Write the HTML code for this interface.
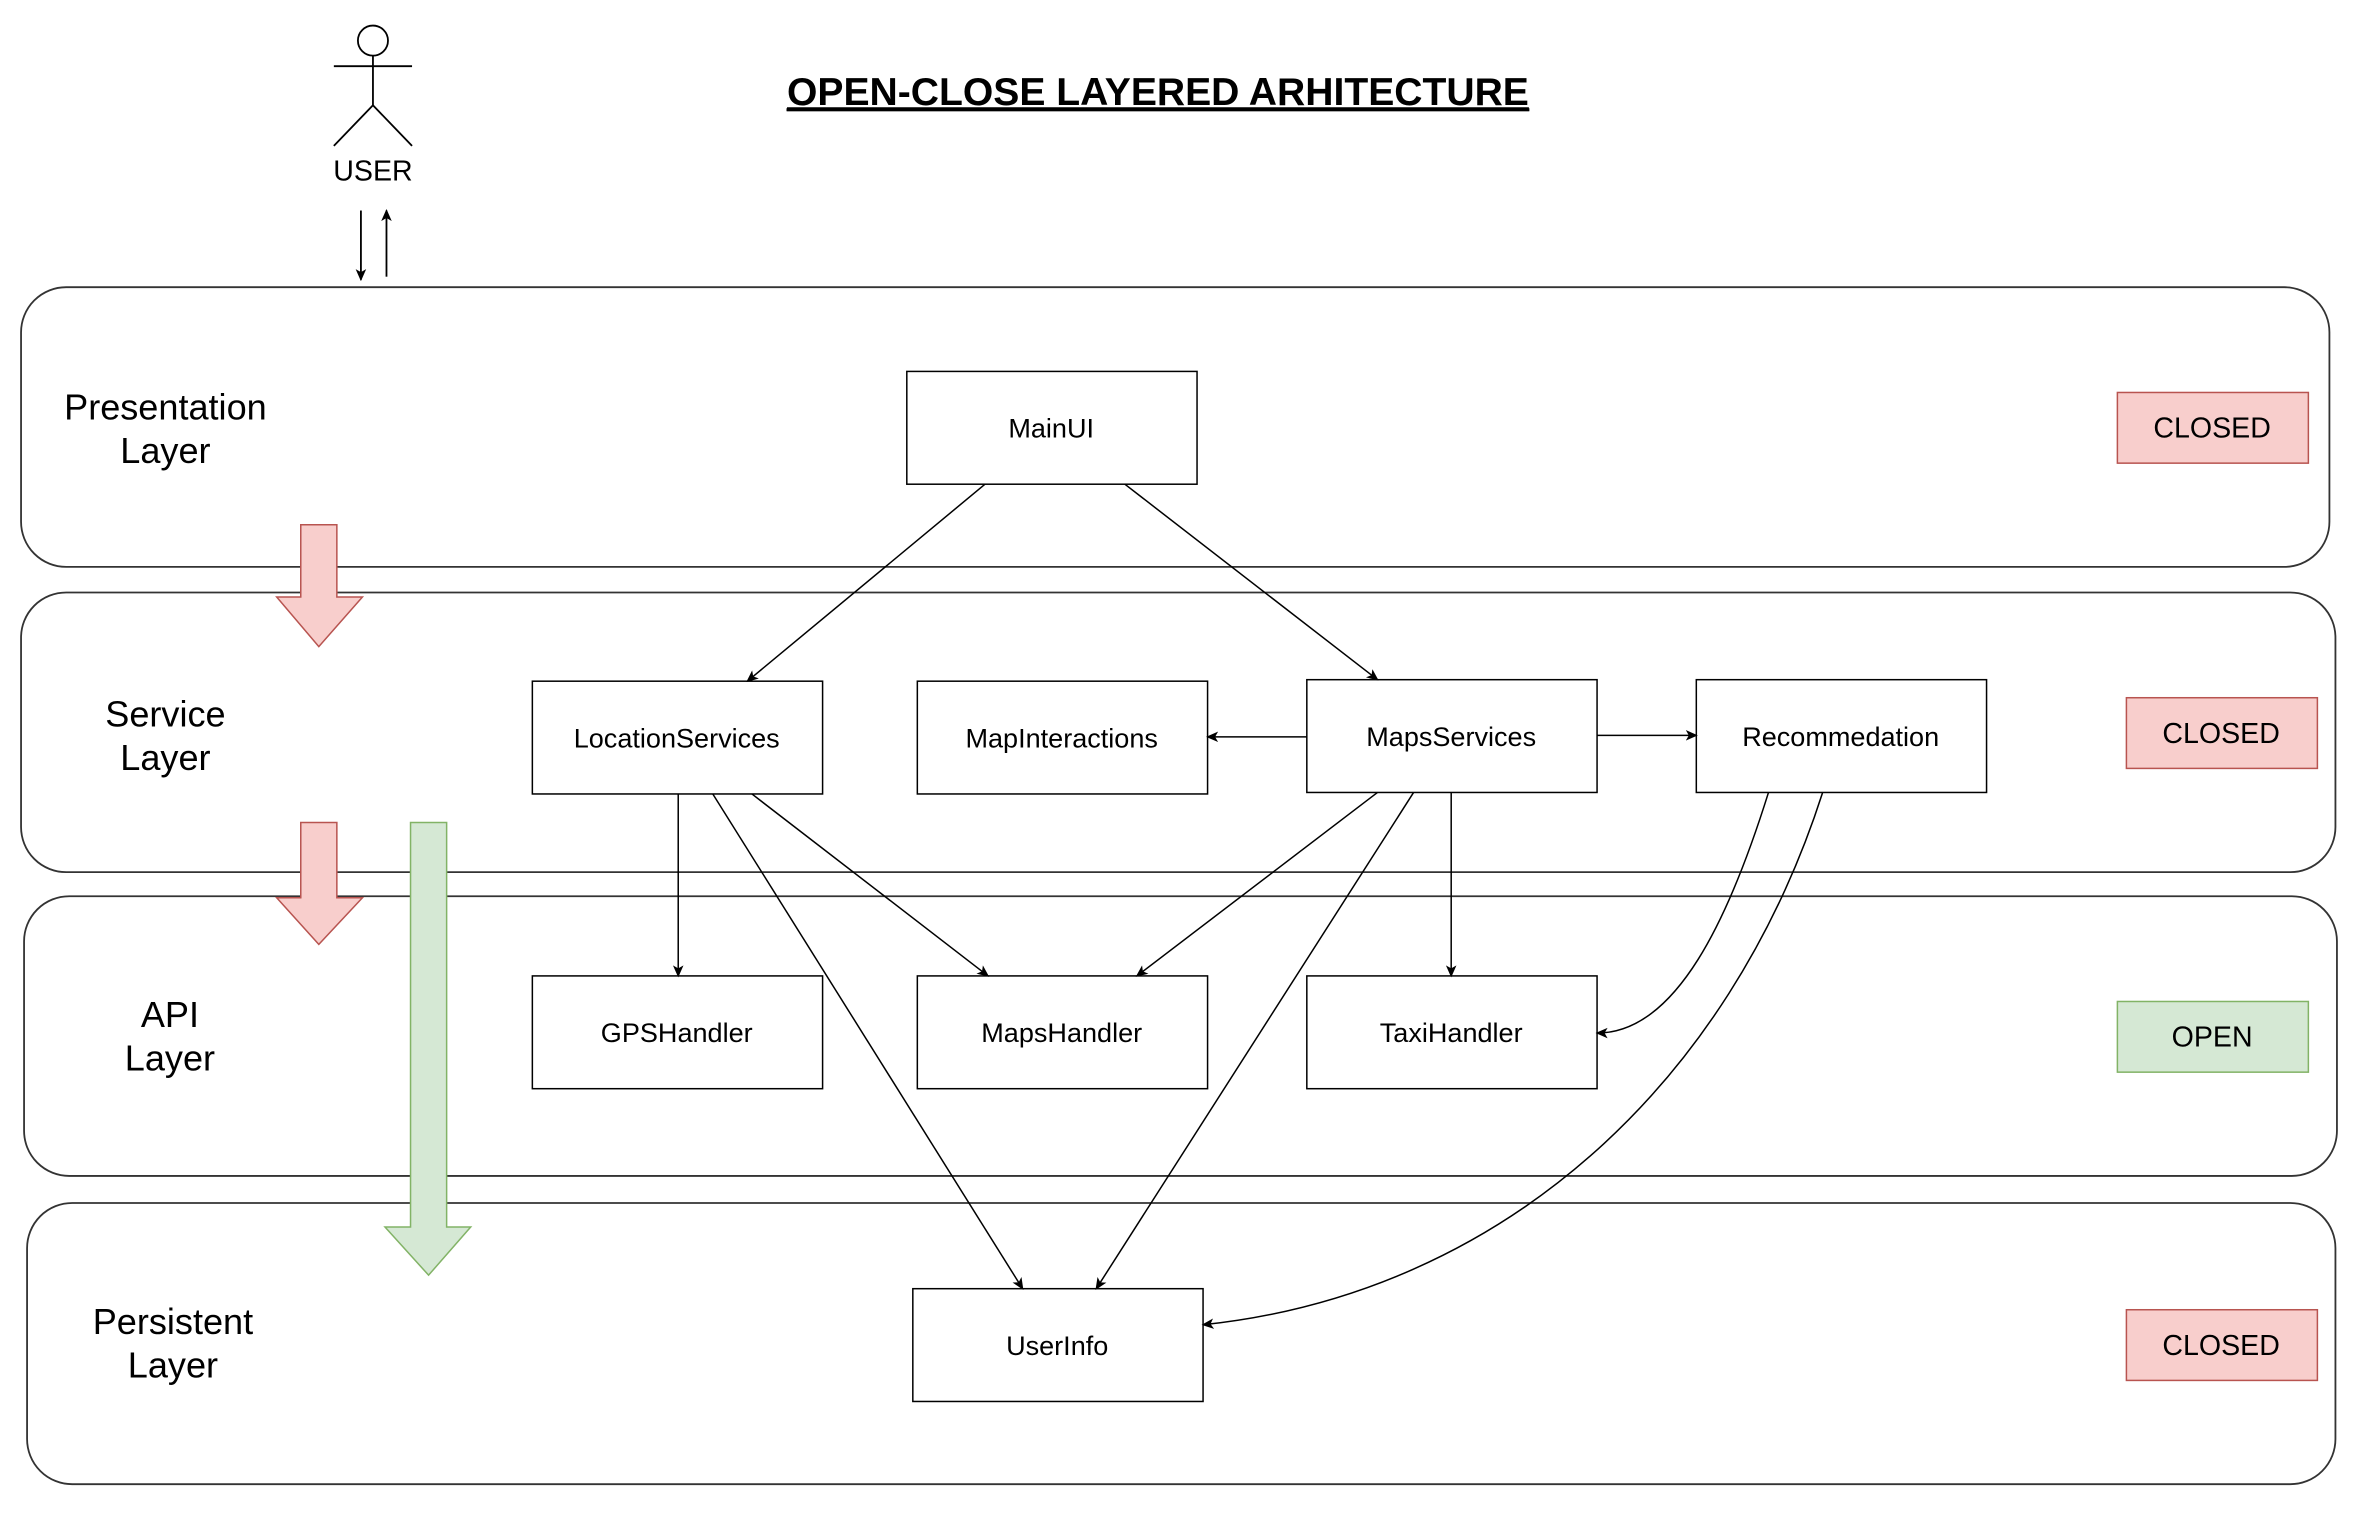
<!DOCTYPE html>
<html><head><meta charset="utf-8"><style>
html,body{margin:0;padding:0;background:#fff;}
svg{display:block;}
text{font-family:"Liberation Sans",Arial,sans-serif;}
</style></head><body>
<svg width="2358" height="1515" viewBox="0 0 1568 1007.5" preserveAspectRatio="none" xmlns="http://www.w3.org/2000/svg">
<defs>
<marker id="a" markerWidth="8" markerHeight="8" refX="7" refY="4" orient="auto" markerUnits="userSpaceOnUse">
<path d="M0,0.5 L8,4 L0,7.5 L2,4 Z" fill="#000"/></marker>
</defs>
<rect width="1568" height="1008" fill="#fff"/>
<!-- layers -->
<g fill="#fff" stroke="#333" stroke-width="1.2">
<rect x="14" y="191" width="1535" height="186" rx="30"/>
<rect x="14" y="394" width="1539" height="186" rx="30"/>
<rect x="16" y="596" width="1538" height="186" rx="30"/>
<rect x="18" y="800" width="1535" height="187" rx="30"/>
</g>
<!-- title -->
<text x="770" y="70" font-size="26" font-weight="bold" text-anchor="middle" text-decoration="underline">OPEN-CLOSE LAYERED ARHITECTURE</text>
<line x1="523" y1="73" x2="1017" y2="73" stroke="#000" stroke-width="2"/>
<!-- user -->
<g stroke="#000" stroke-width="1.2" fill="none">
<circle cx="248" cy="27" r="10" fill="#fff"/>
<line x1="248" y1="37" x2="248" y2="70"/>
<line x1="222" y1="44" x2="274" y2="44"/>
<line x1="248" y1="70" x2="222" y2="97"/>
<line x1="248" y1="70" x2="274" y2="97"/>
<line x1="240" y1="140" x2="240" y2="186" marker-end="url(#a)"/>
<line x1="257" y1="184" x2="257" y2="140" marker-end="url(#a)"/>
</g>
<text x="248" y="120" font-size="19" text-anchor="middle">USER</text>
<!-- layer labels -->
<g font-size="24" text-anchor="middle">
<text x="110" y="279">Presentation</text><text x="110" y="308">Layer</text>
<text x="110" y="483">Service</text><text x="110" y="512">Layer</text>
<text x="113" y="683">API</text><text x="113" y="712">Layer</text>
<text x="115" y="887">Persistent</text><text x="115" y="916">Layer</text>
</g>
<!-- block arrows -->
<path d="M200,349 H224 V397 H241 L212,430 L184,397 H200 Z" fill="#f8cecc" stroke="#b85450" stroke-width="1"/>
<path d="M200,547 H224 V597 H241 L212,628 L184,597 H200 Z" fill="#f8cecc" stroke="#b85450" stroke-width="1"/>
<path d="M273,547 H297 V816 H313 L285,848 L256,816 H273 Z" fill="#d5e8d4" stroke="#82b366" stroke-width="1"/>
<!-- status -->
<g stroke-width="1" font-size="19">
<rect x="1408" y="261" width="127" height="47" fill="#f8cecc" stroke="#b85450"/>
<rect x="1414" y="464" width="127" height="47" fill="#f8cecc" stroke="#b85450"/>
<rect x="1408" y="666" width="127" height="47" fill="#d5e8d4" stroke="#82b366"/>
<rect x="1414" y="871" width="127" height="47" fill="#f8cecc" stroke="#b85450"/>
</g>
<g font-size="19" text-anchor="middle">
<text x="1471" y="291">CLOSED</text>
<text x="1477" y="494">CLOSED</text>
<text x="1471" y="696">OPEN</text>
<text x="1477" y="901">CLOSED</text>
</g>
<!-- boxes -->
<g fill="#fff" stroke="#000" stroke-width="1">
<rect x="603" y="247" width="193" height="75"/>
<rect x="354" y="453" width="193" height="75"/>
<rect x="610" y="453" width="193" height="75"/>
<rect x="869" y="452" width="193" height="75"/>
<rect x="1128" y="452" width="193" height="75"/>
<rect x="354" y="649" width="193" height="75"/>
<rect x="610" y="649" width="193" height="75"/>
<rect x="869" y="649" width="193" height="75"/>
<rect x="607" y="857" width="193" height="75"/>
</g>
<g font-size="18" text-anchor="middle">
<text x="699" y="291">MainUI</text>
<text x="450" y="497">LocationServices</text>
<text x="706" y="497">MapInteractions</text>
<text x="965" y="496">MapsServices</text>
<text x="1224" y="496">Recommedation</text>
<text x="450" y="693">GPSHandler</text>
<text x="706" y="693">MapsHandler</text>
<text x="965" y="693">TaxiHandler</text>
<text x="703" y="901">UserInfo</text>
</g>
<!-- connectors -->
<g stroke="#000" stroke-width="1" fill="none" marker-end="url(#a)">
<line x1="655" y1="322" x2="497" y2="453"/>
<line x1="748" y1="322" x2="916" y2="452"/>
<line x1="869" y1="490" x2="803" y2="490"/>
<line x1="1062" y1="489" x2="1128" y2="489"/>
<line x1="451" y1="528" x2="451" y2="649"/>
<line x1="500" y1="528" x2="657" y2="649"/>
<line x1="474" y1="528" x2="680" y2="857"/>
<line x1="916" y1="527" x2="756" y2="649"/>
<line x1="940" y1="527" x2="729" y2="857"/>
<line x1="965" y1="527" x2="965" y2="649"/>
<path d="M1176,527 C1150,610 1115,687 1062,687"/>
<path d="M1212,527 C1150,720 1000,860 800,881"/>
</g>
</svg>
</body></html>
